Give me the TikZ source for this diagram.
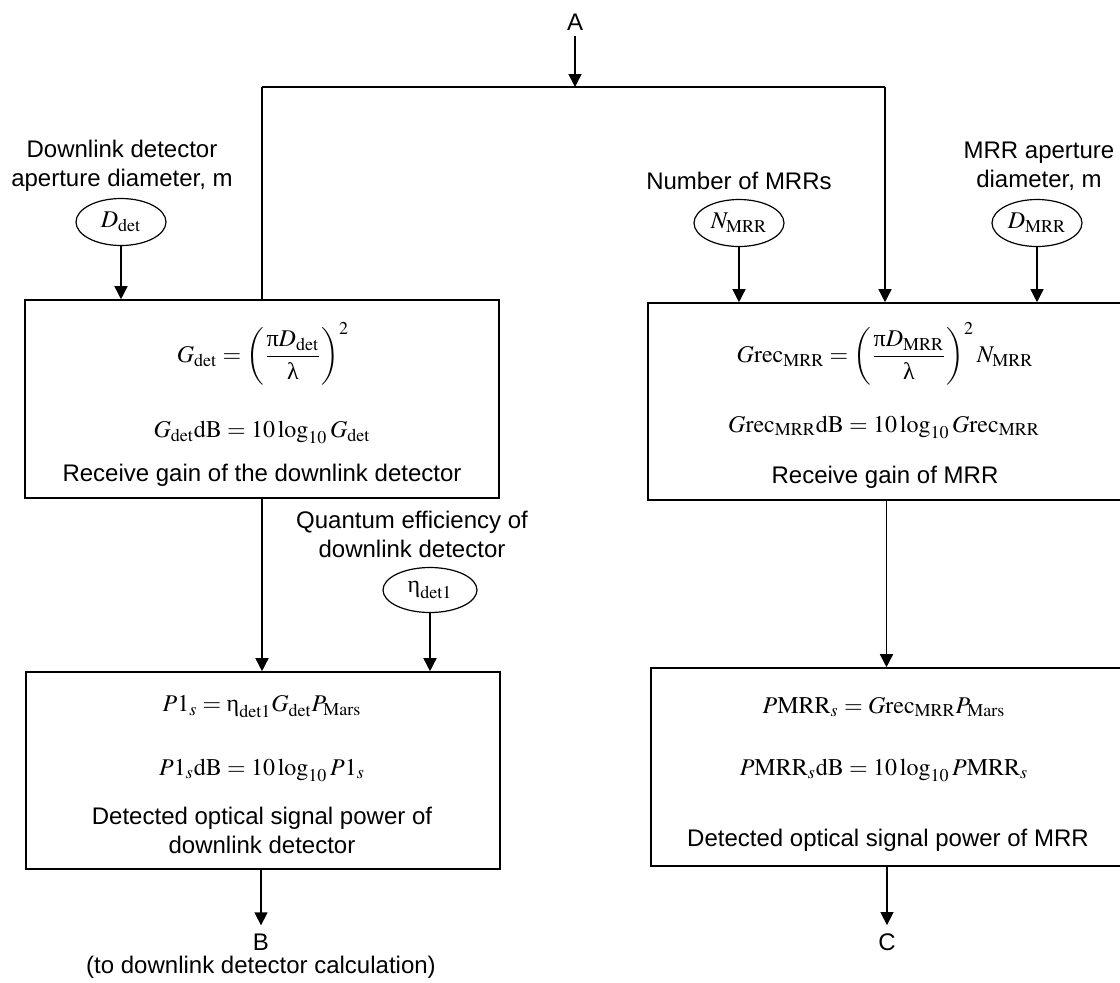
\documentclass[tikz,border=0pt]{standalone}
\usepackage{amsmath}
\usepackage{mathptmx}
\usepackage[no-math]{fontspec}
\setmainfont{Liberation Sans}
\newfontfamily\grkfont{Liberation Serif}
\usetikzlibrary{arrows.meta,shapes.geometric}
% upright Greek letters in formulas
\newcommand{\upg}[1]{\text{\grkfont #1}}
\newcommand{\sub}[1]{\mathrm{#1}}

\begin{document}
\begin{tikzpicture}[x=0.5pt,y=-0.5pt,
  every node/.style={font=\fontsize{12}{14.5}\selectfont},
  calcbox/.style={draw, line width=0.8pt, inner sep=0pt},
  param/.style={draw, ellipse, line width=0.6pt, inner sep=0pt,
                minimum width=45pt, minimum height=23.5pt},
  caption/.style={align=center},
  term/.style={inner sep=4pt},
  arr/.style={-{Triangle[length=6.5pt,width=6.5pt]}, line width=0.7pt},
  wire/.style={line width=0.7pt}]
\useasboundingbox (0,0) rectangle (1120,982);

% ---- entry point and branching ----
\node[term, inner sep=2.5pt] (A) at (575,22) {A};
\coordinate (jA) at (575,87);
\coordinate (jL) at (262,87);
\coordinate (jR) at (885,87);

% ---- calculation boxes ----
\node[calcbox, minimum width=237pt, minimum height=99pt] (L1) at (262,399) {};
\node[calcbox, minimum width=238.5pt, minimum height=98.5pt] (R1) at (886.5,401.5) {};
\node[calcbox, minimum width=237pt, minimum height=98.5pt] (L2) at (263,770.5) {};
\node[calcbox, minimum width=237pt, minimum height=99pt] (R2) at (888,767) {};

% ---- input parameters ----
\node[caption] (capDdet) at (122,166) {Downlink detector\\aperture diameter, m};
\node[param] (Ddet) at (121,222) {$D_{\sub{det}}$};
\node[caption] (capN) at (739,181) {Number of MRRs};
\node[param] (N) at (739,223) {$N_{\sub{MRR}}$};
\node[caption] (capDmrr) at (1039,166) {MRR aperture\\diameter, m};
\node[param] (Dmrr) at (1037,223) {$D_{\sub{MRR}}$};
\node[caption] (capEta) at (412,534) {Quantum efficiency of\\downlink detector};
\node[param, minimum width=47pt, minimum height=22.5pt] (eta) at (430,590) {$\upg{η}_{\sub{det1}}$};

% ---- box contents: receive gain (left) ----
\node (L1a) at (263,354) {$G_{\sub{det}} = \left(\dfrac{\upg{π} D_{\sub{det}}}{\upg{λ}}\right)^{2}$};
\node (L1b) at (262,432) {$G_{\sub{det}}\mathrm{dB} = 10\log_{10} G_{\sub{det}}$};
\node (L1c) at (262,475) {Receive gain of the downlink detector};

% ---- box contents: receive gain (right) ----
\node (R1a) at (885,354) {$G\mathrm{rec}_{\sub{MRR}} = \left(\dfrac{\upg{π} D_{\sub{MRR}}}{\upg{λ}}\right)^{2} N_{\sub{MRR}}$};
\node (R1b) at (884,427) {$G\mathrm{rec}_{\sub{MRR}}\mathrm{dB} = 10\log_{10} G\mathrm{rec}_{\sub{MRR}}$};
\node (R1c) at (885,477) {Receive gain of MRR};

% ---- box contents: detected power (left) ----
\node (L2a) at (262,707) {$P\mathrm{1}_{s} = \upg{η}_{\sub{det1}} G_{\sub{det}} P_{\sub{Mars}}$};
\node (L2b) at (262,770) {$P\mathrm{1}_{s}\mathrm{dB} = 10\log_{10} P\mathrm{1}_{s}$};
\node[caption] (L2c) at (262,830) {Detected optical signal power of\\downlink detector};

% ---- box contents: detected power (right) ----
\node (R2a) at (884,707) {$P\mathrm{MRR}_{s} = G\mathrm{rec}_{\sub{MRR}} P_{\sub{Mars}}$};
\node (R2b) at (884,770) {$P\mathrm{MRR}_{s}\mathrm{dB} = 10\log_{10} P\mathrm{MRR}_{s}$};
\node (R2c) at (888,840) {Detected optical signal power of MRR};

% ---- exits ----
\node[term] (B) at (261,942) {B};
\node (Bnote) at (261,967) {(to downlink detector calculation)};
\node[term] (C) at (887,942) {C};

% ---- connectors ----
\draw[arr] (A) -- (jA);
\draw[wire] (jL) -- (jR);
\draw[wire] (jL) -- (jL |- L1.north);
\draw[arr] (jR) -- (jR |- R1.north);
\draw[arr] (Ddet) -- (Ddet |- L1.north);
\draw[arr] (N) -- (N |- R1.north);
\draw[arr] (Dmrr) -- (Dmrr |- R1.north);
\draw[arr] (L1.south) -- (L1.south |- L2.north);
\draw[arr] (eta) -- (eta |- L2.north);
\draw[arr] (R1.south) -- (R1.south |- R2.north);
\draw[arr] (B |- L2.south) -- (B);
\draw[arr] (C |- R2.south) -- (C);
\end{tikzpicture}
\end{document}
